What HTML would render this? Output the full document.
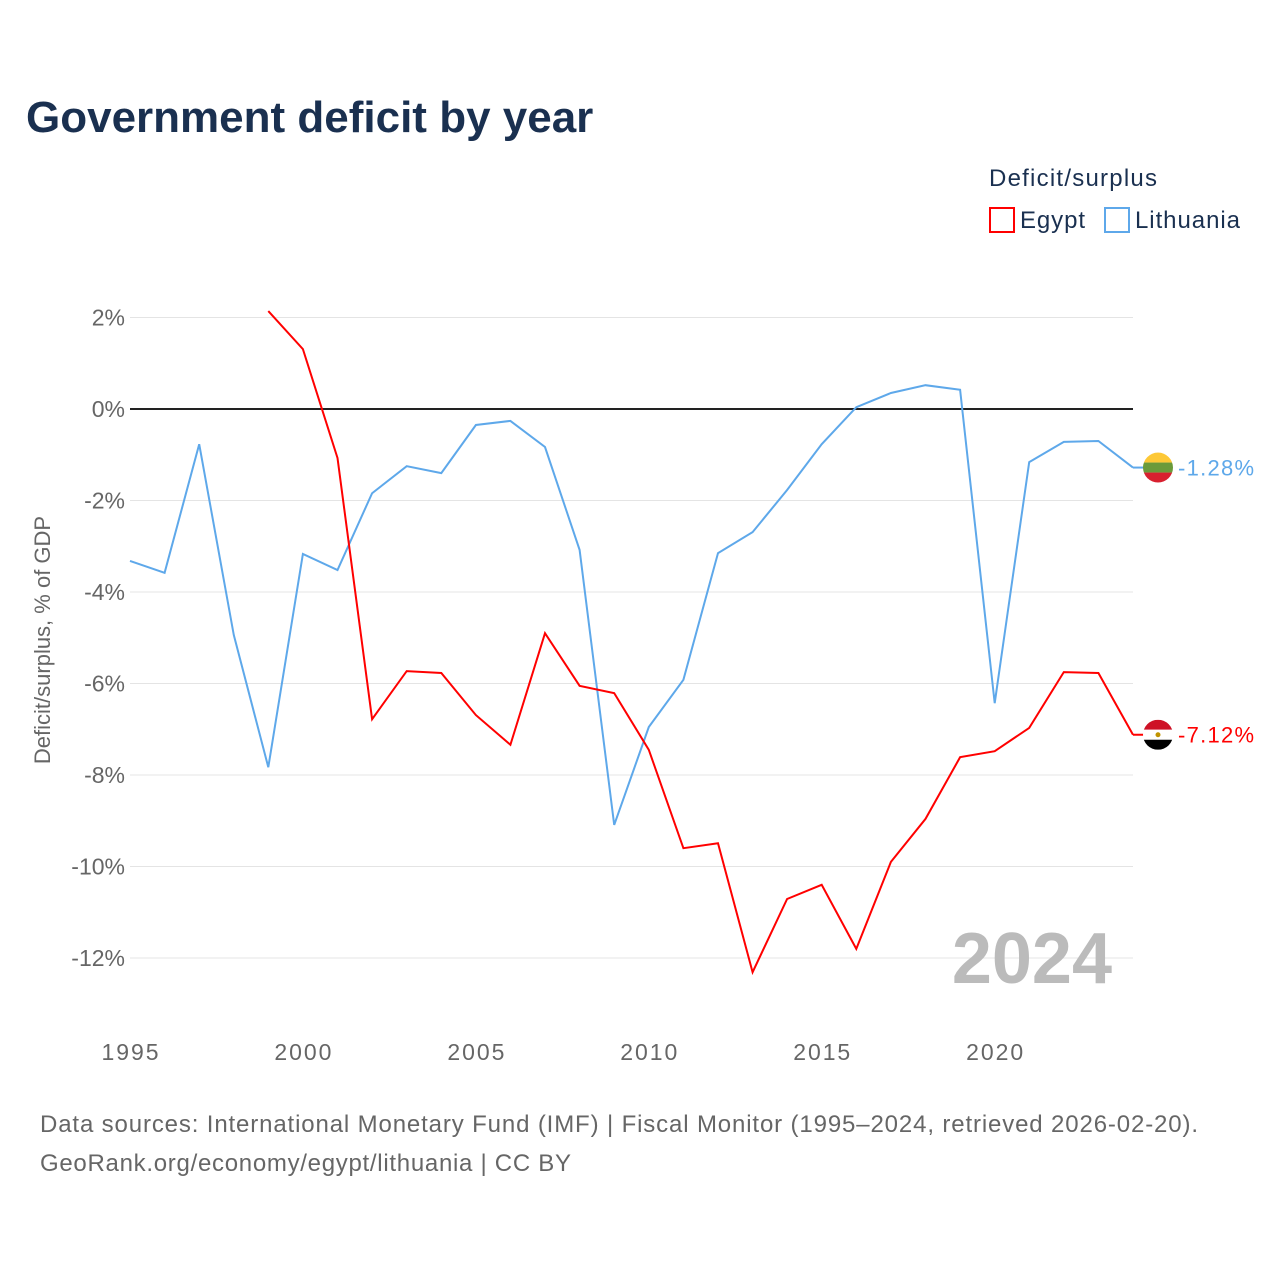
<!DOCTYPE html>
<html><head><meta charset="utf-8"><style>
body{margin:0;background:#fff;font-family:"Liberation Sans",sans-serif}
</style></head><body>
<svg id="chart" width="1280" height="1280" xmlns="http://www.w3.org/2000/svg">
<text x="26" y="132" font-size="44" font-weight="bold" fill="#1a3050">Government deficit by year</text>
<text x="989" y="186" font-size="24" fill="#1a3050" textLength="168">Deficit/surplus</text>
<g><rect x="990" y="208" width="24" height="24" fill="none" stroke="#ff0000" stroke-width="2"/><text x="1020" y="228" font-size="24" fill="#1a3050" textLength="65">Egypt</text></g>
<g><rect x="1105" y="208" width="24" height="24" fill="none" stroke="#5ea8ea" stroke-width="2"/><text x="1135" y="228" font-size="24" fill="#1a3050" textLength="105">Lithuania</text></g>
<g id="grid"></g><g id="series"></g>
<text transform="translate(50,640) rotate(-90)" text-anchor="middle" font-size="22" fill="#666">Deficit/surplus, % of GDP</text>
<text x="1112" y="983" text-anchor="end" font-size="72" font-weight="bold" fill="#bbb">2024</text>
<text x="40" y="1132" font-size="24" fill="#666" textLength="1158">Data sources: International Monetary Fund (IMF) | Fiscal Monitor (1995–2024, retrieved 2026-02-20).</text>
<text x="40" y="1171" font-size="24" fill="#666" textLength="531">GeoRank.org/economy/egypt/lithuania | CC BY</text>
</svg>
<script>
const years=[1995,1996,1997,1998,1999,2000,2001,2002,2003,2004,2005,2006,2007,2008,2009,2010,2011,2012,2013,2014,2015,2016,2017,2018,2019,2020,2021,2022,2023,2024];
const lithuania=[-3.32,-3.58,-0.77,-4.94,-7.83,-3.17,-3.52,-1.84,-1.25,-1.40,-0.35,-0.26,-0.83,-3.08,-9.09,-6.95,-5.92,-3.15,-2.69,-1.77,-0.77,0.04,0.35,0.52,0.42,-6.43,-1.16,-0.72,-0.70,-1.28];
const egypt=[null,null,null,null,2.14,1.31,-1.07,-6.78,-5.73,-5.77,-6.69,-7.34,-4.90,-6.05,-6.21,-7.45,-9.60,-9.49,-12.31,-10.71,-10.40,-11.80,-9.90,-8.96,-7.61,-7.48,-6.97,-5.75,-5.77,-7.12];
const yTicks=[2,0,-2,-4,-6,-8,-10,-12];
const xTicks=[1995,2000,2005,2010,2015,2020];
const NS="http://www.w3.org/2000/svg";
const X=y=>130+(y-1995)*(1133-130)/29;
const Y=v=>409-v*45.75;
const grid=document.getElementById('grid'),ser=document.getElementById('series');
function mk(t,a,p){const e=document.createElementNS(NS,t);for(const k in a)e.setAttribute(k,a[k]);p.appendChild(e);return e;}
yTicks.forEach(v=>{
 const l=mk('line',{x1:130,x2:1133,y1:Y(v),y2:Y(v),stroke:v===0?'#222':'#e4e4e4','stroke-width':v===0?2:1},grid);
 
 
 const t=mk('text',{x:125,y:Y(v)+8,'text-anchor':'end','font-size':23,fill:'#666'},grid);t.textContent=v+'%';
 
 
});
xTicks.forEach(y=>{
 const t=mk('text',{x:X(y),y:1060,'text-anchor':'middle','font-size':23,fill:'#666',textLength:57},grid);t.textContent=y;
 
 
});
function line(vals,color,name){
 const pts=[];vals.forEach((v,i)=>{if(v!==null)pts.push(X(years[i]).toFixed(1)+','+Y(v).toFixed(1));});
 const p=mk('polyline',{points:pts.join(' '),fill:'none',stroke:color,'stroke-width':2},ser);
 
 
 const last=vals[vals.length-1];
 const ly=Y(last);
 mk('line',{x1:1133,x2:1145,y1:ly,y2:ly,stroke:color,'stroke-width':2},ser);
 const t=mk('text',{x:1178,y:ly+8,'font-size':22,fill:color,textLength:76},ser);t.textContent=last.toFixed(2)+'%';
 
 
 return ly;
}
const ly=line(lithuania,'#5ea8ea','lithuania');
const ey=line(egypt,'#ff0000','egypt');
const cx=1158;
const f1=mk('g',{},ser);


const cp=mk('clipPath',{id:'cl1'},f1);mk('circle',{cx:cx,cy:ly,r:15},cp);
[['#fdc836',-15],['#6a9a3a',-5],['#d8202f',5]].forEach(([c,o])=>mk('rect',{x:cx-15,y:ly+o,width:30,height:10,fill:c,'clip-path':'url(#cl1)'},f1));
const f2=mk('g',{},ser);


const cp2=mk('clipPath',{id:'cl2'},f2);mk('circle',{cx:cx,cy:ey,r:15},cp2);
[['#ce1126',-15],['#ffffff',-5],['#000000',5]].forEach(([c,o])=>mk('rect',{x:cx-15,y:ey+o,width:30,height:10,fill:c,'clip-path':'url(#cl2)'},f2));
mk('circle',{cx:cx,cy:ey,r:2.5,fill:'#c09300'},f2);
</script>
</body></html>
